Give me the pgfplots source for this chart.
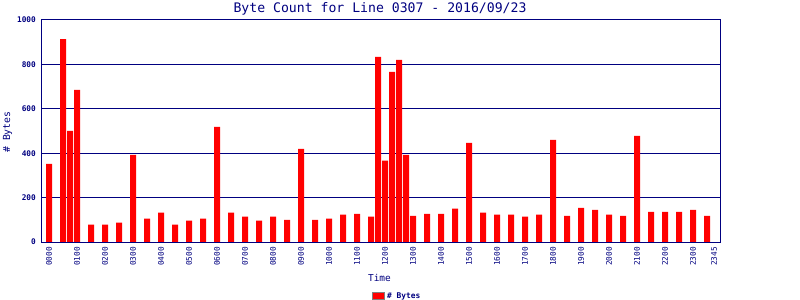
\documentclass[border=0pt]{standalone}
\usepackage{fontspec}
\usepackage{pgfplots}
\pgfplotsset{compat=1.18}
\newfontfamily\mono{DejaVu Sans Mono}
\definecolor{navyc}{HTML}{000080}
\definecolor{barred}{HTML}{FF0000}
\begin{document}
\begin{tikzpicture}
\useasboundingbox (0,0) rectangle (800bp,300bp);
\begin{axis}[
  at={(41bp,58bp)}, anchor=south west,
  scale only axis, width=679bp, height=222bp,
  xmin=-1.143, xmax=95.857, ymin=0, ymax=1000,
  enlargelimits=false,
  axis line style={navyc, line width=1bp},
  ymajorgrids, grid style={navyc, line width=1bp},
  major tick length=0pt,
  ytick={0,200,400,600,800,1000},
  xtick={0,4,8,12,16,20,24,28,32,36,40,44,48,52,56,60,64,68,72,76,80,84,88,92,95},
  xticklabels={0000,0100,0200,0300,0400,0500,0600,0700,0800,0900,1000,1100,1200,1300,1400,1500,1600,1700,1800,1900,2000,2100,2200,2300,2345},
  /pgf/number format/assume math mode=true,
  /pgf/number format/1000 sep={},
  yticklabel style={font=\fontsize{7.8}{7.8}\selectfont\mono\bfseries, text=navyc, inner sep=0pt},
  yticklabel shift=5bp,
  xticklabel style={font=\fontsize{7.8}{7.8}\selectfont\mono, text=navyc, rotate=90, anchor=east, inner sep=0pt},
  xticklabel shift=5bp,
  every axis title shift=0pt,
  title={Byte Count for Line 0307 - 2016/09/23},
  title style={font=\fontsize{13.2}{13.2}\selectfont\mono, text=navyc, at={(axis description cs:0.4993,1.0347)}, anchor=base, inner sep=0pt, yshift=0pt},
  xlabel={Time},
  xlabel style={font=\fontsize{9.5}{9.5}\selectfont\mono, text=navyc, at={(axis description cs:0.4985,-0.180)}, anchor=base, inner sep=0pt},
  ylabel={\# Bytes},
  ylabel style={font=\fontsize{9.8}{9.8}\selectfont\mono, text=navyc, at={(axis description cs:-0.0493,0.495)}, anchor=center, inner sep=0pt},
  legend style={draw=none, fill=none, at={(axis description cs:0.4875,-0.243)}, anchor=west, inner sep=0pt, font=\fontsize{7.9}{7.9}\selectfont\mono\bfseries, text=navyc},
  legend image code/.code={\draw[fill=barred, draw=gray, line width=1bp] (0bp,-3.5bp) rectangle (12bp,3.5bp);},
]
\addplot[ybar, bar width=6bp, fill=barred, draw=none] coordinates {
(0,352) (2,914) (3,501) (4,685) (6,78) (8,78) (10,87) (12,393) (14,105) (16,132)
(18,78) (20,96) (22,105) (24,519) (26,132) (28,114) (30,96) (32,114) (34,100) (36,420)
(38,100) (40,105) (42,123) (44,127) (46,114) (47,834) (48,366) (49,766) (50,820) (51,393)
(52,118) (54,127) (56,127) (58,150) (60,447) (62,132) (64,123) (66,123) (68,114) (70,123)
(72,460) (74,118) (76,154) (78,145) (80,123) (82,118) (84,478) (86,136) (88,136) (90,136)
(92,145) (94,118)
};
\addlegendentry{\# Bytes}
\end{axis}
\end{tikzpicture}
\end{document}
